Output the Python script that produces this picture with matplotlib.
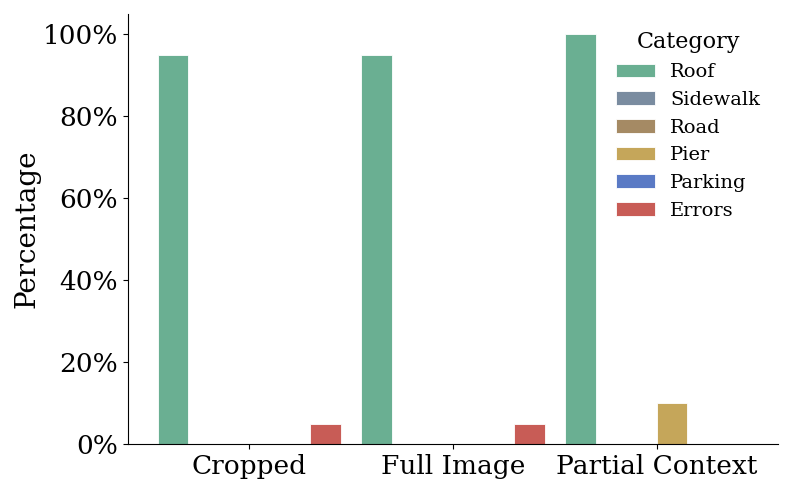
import numpy as np
import matplotlib
matplotlib.use('Agg')
import matplotlib.pyplot as plt
from matplotlib.ticker import PercentFormatter

# conditions on x axis
conditions = ['Cropped', 'Full Image', 'Partial Context']

# category shares per condition (fraction)
categories = ['Roof', 'Sidewalk', 'Road', 'Pier', 'Parking', 'Errors']
roof = [0.95, 0.95, 1.00]
sidewalk = [0.0, 0.0, 0.0]
road = [0.0, 0.0, 0.0]
pier = [0.0, 0.0, 0.10]
parking = [0.0, 0.0, 0.0]
errors = [0.05, 0.05, 0.0]

colors = ['#6aaf92', '#7a8ca0', '#a58a64', '#c5a65a', '#5a7ac5', '#c85c56']

plt.rcParams['font.family'] = 'DejaVu Serif'

fig = plt.figure(figsize=(7.93, 4.96), dpi=100)
ax = fig.add_axes([0.1614, 0.1048, 0.8196, 0.867])

x = np.arange(len(conditions))
n = len(categories)
width = 0.9 / n
series = [roof, sidewalk, road, pier, parking, errors]
for i, (cat, vals) in enumerate(zip(categories, series)):
    pos = x - 0.45 + width * (i + 0.5)
    ax.bar(pos, vals, width, label=cat, color=colors[i],
           edgecolor='white', linewidth=0.6)

ax.set_xticks(x)
ax.set_xticklabels(conditions, fontsize=19)
ax.tick_params(axis='y', labelsize=19)
ax.yaxis.set_major_formatter(PercentFormatter(1.0, decimals=0))
ax.set_ylabel('Percentage', fontsize=20, labelpad=2)

ax.spines['top'].set_visible(False)
ax.spines['right'].set_visible(False)

leg = ax.legend(title='Category', frameon=False, fontsize=14,
                title_fontsize=16, loc='upper right', labelspacing=0.5,
                handlelength=2.0, bbox_to_anchor=(1.0, 1.0))

fig.savefig('out.png', dpi=100)
